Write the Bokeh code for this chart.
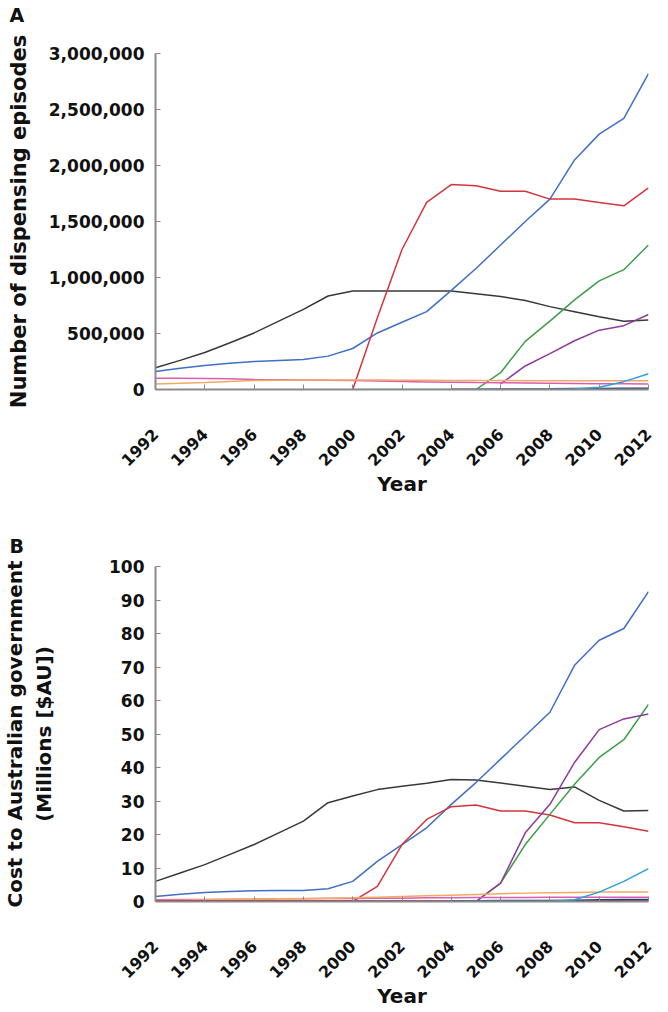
import math
from bokeh.plotting import figure
from bokeh.layouts import column
from bokeh.models import FixedTicker, NumeralTickFormatter, Range1d, Title
from bokeh.embed import file_html
from bokeh.resources import INLINE

nan = float("nan")
years = list(range(1992, 2013))
x_ticks = list(range(1992, 2013, 2))

# ---- Panel A: number of dispensing episodes ----
a_black = [195e3, 260e3, 330e3, 415e3, 505e3, 610e3, 715e3, 835e3, 880e3, 880e3, 880e3,
           880e3, 880e3, 855e3, 830e3, 795e3, 740e3, 695e3, 650e3, 610e3, 620e3]
a_blue = [160e3, 190e3, 215e3, 235e3, 250e3, 260e3, 268e3, 298e3, 366e3, 505e3, 600e3,
          695e3, 885e3, 1.08e6, 1.29e6, 1.50e6, 1.70e6, 2.05e6, 2.28e6, 2.42e6, 2.82e6]
a_red = [nan, nan, nan, nan, nan, nan, nan, nan, 0, 640e3, 1.25e6,
         1.67e6, 1.83e6, 1.82e6, 1.77e6, 1.77e6, 1.70e6, 1.70e6, 1.67e6, 1.64e6, 1.80e6]
a_green = [nan, nan, nan, nan, nan, nan, nan, nan, nan, nan, nan,
           nan, nan, 0, 150e3, 430e3, 610e3, 800e3, 970e3, 1.07e6, 1.29e6]
a_purple = [nan, nan, nan, nan, nan, nan, nan, nan, nan, nan, nan,
            nan, nan, nan, 50e3, 210e3, 320e3, 435e3, 530e3, 570e3, 670e3]
a_lightblue = [nan, nan, nan, nan, nan, nan, nan, nan, 0, 0, 0,
               0, 0, 0, 0, 0, 0, 5e3, 20e3, 70e3, 140e3]
a_pink = [100e3, 100e3, 98e3, 95e3, 90e3, 88e3, 85e3, 82e3, 80e3, 76e3, 72e3,
          68e3, 65e3, 62e3, 60e3, 58e3, 56e3, 54e3, 52e3, 51e3, 50e3]
a_orange = [50e3, 55e3, 62e3, 72e3, 80e3, 82e3, 84e3, 85e3, 85e3, 84e3, 82e3,
            82e3, 80e3, 80e3, 80e3, 79e3, 78e3, 78e3, 78e3, 78e3, 78e3]
a_navy = [nan, nan, nan, nan, nan, nan, nan, nan, nan, nan, nan,
          nan, 2e3, 3e3, 4e3, 5e3, 6e3, 8e3, 10e3, 12e3, 12e3]

# ---- Panel B: cost to Australian government (millions AUD) ----
b_black = [6, 8.5, 11, 14, 17, 20.5, 24, 29.5, 31.5, 33.4, 34.4,
           35.3, 36.4, 36.3, 35.4, 34.4, 33.4, 34.2, 30.2, 27, 27.2]
b_blue = [1.5, 2.2, 2.7, 3.0, 3.2, 3.3, 3.3, 3.8, 6, 12, 17,
          22, 29, 35.5, 42.5, 49.5, 56.5, 70.5, 78, 81.5, 92.5]
b_red = [nan, nan, nan, nan, nan, nan, nan, nan, 0, 4.5, 17,
         24.5, 28.3, 28.8, 27, 27, 25.8, 23.5, 23.5, 22.3, 21]
b_green = [nan, nan, nan, nan, nan, nan, nan, nan, nan, nan, nan,
           nan, nan, 0, 5.5, 17, 26, 35, 43, 48.3, 58.8]
b_purple = [nan, nan, nan, nan, nan, nan, nan, nan, nan, nan, nan,
            nan, nan, 0, 5.5, 20.5, 29, 41.5, 51.3, 54.5, 56]
b_lightblue = [nan, nan, nan, nan, nan, nan, nan, nan, 0, 0, 0,
               0, 0, 0, 0, 0, 0, 0.5, 2.8, 6, 9.8]
b_pink = [0.5, 0.6, 0.6, 0.7, 0.7, 0.8, 0.8, 0.9, 0.9, 1.0, 1.0,
          1.1, 1.1, 1.2, 1.2, 1.2, 1.3, 1.3, 1.3, 1.3, 1.3]
b_orange = [0.3, 0.4, 0.5, 0.6, 0.7, 0.8, 0.9, 1.0, 1.1, 1.3, 1.5,
            1.7, 1.9, 2.1, 2.3, 2.5, 2.6, 2.7, 2.8, 2.8, 2.8]
b_crimson = [0.2, 0.2, 0.2, 0.2, 0.2, 0.2, 0.2, 0.2, 0.2, 0.2, 0.2,
             0.2, 0.2, 0.2, 0.2, 0.2, 0.2, 0.2, 0.2, 0.2, 0.2]
b_navy = [nan, nan, nan, nan, nan, nan, nan, nan, nan, nan, nan,
          nan, 0.2, 0.2, 0.3, 0.3, 0.3, 0.4, 0.5, 0.6, 0.6]

a_y_ticks = [0, 500000, 1000000, 1500000, 2000000, 2500000, 3000000]
b_y_ticks = [0, 10, 20, 30, 40, 50, 60, 70, 80, 90, 100]

COLORS = {
    "black": "#383838", "blue": "#3f6fc6", "red": "#d4353d", "green": "#3c9e47",
    "purple": "#8e3a9e", "lightblue": "#2c9fdc", "pink": "#dc5cb0", "orange": "#f0aa62",
    "navy": "#23407a", "crimson": "#b0203c",
}

FONT = "DejaVu Sans"


def letter_title(text, standoff):
    return Title(text=text, align="left", offset=-146, vertical_align="top",
                 standoff=standoff, text_font=FONT, text_font_style="bold",
                 text_font_size="19px", text_color="#111111")


def make_panel(series, y_end, y_ticks, y_fmt, ylabel, ylabel_size, height, b_top, b_bottom,
               ylabel_standoff):
    p = figure(width=656, height=height, output_backend="svg", toolbar_location=None,
               x_range=Range1d(1992, 2012), y_range=Range1d(0, y_end),
               min_border_left=148, min_border_right=8,
               min_border_top=b_top, min_border_bottom=b_bottom)
    p.outline_line_color = None
    p.xgrid.visible = False
    p.ygrid.visible = False
    p.background_fill_color = None
    p.border_fill_color = "white"

    for name, vals in series:
        p.line(years, vals, line_color=COLORS[name], line_width=1.5)

    for ax in (p.xaxis[0], p.yaxis[0]):
        ax.axis_line_color = "#8a8a8a"
        ax.axis_line_width = 2
        ax.major_tick_line_color = "#8a8a8a"
        ax.major_tick_in = 5
        ax.major_tick_out = 0
        ax.minor_tick_line_color = None
        ax.major_label_text_font = FONT
        ax.major_label_text_font_style = "bold"
        ax.major_label_text_font_size = "17px"
        ax.major_label_text_color = "#111111"
        ax.axis_label_text_font = FONT
        ax.axis_label_text_font_style = "bold"
        ax.axis_label_text_color = "#111111"

    xa = p.xaxis[0]
    xa.ticker = FixedTicker(ticks=x_ticks)
    xa.major_label_orientation = math.pi / 4
    xa.major_label_text_font_size = "16px"
    xa.major_label_standoff = 42
    xa.axis_label = "Year"
    xa.axis_label_text_font_size = "20px"
    xa.axis_label_standoff = -2

    ya = p.yaxis[0]
    ya.ticker = FixedTicker(ticks=y_ticks)
    ya.formatter = NumeralTickFormatter(format=y_fmt)
    ya.major_label_standoff = 11
    ya.axis_label = ylabel
    ya.axis_label_text_font_size = ylabel_size
    ya.axis_label_standoff = ylabel_standoff
    return p


pa = make_panel([("black", a_black), ("blue", a_blue), ("red", a_red), ("green", a_green),
                 ("purple", a_purple), ("pink", a_pink), ("orange", a_orange),
                 ("navy", a_navy), ("lightblue", a_lightblue)],
                3000000, a_y_ticks, "0,0", "Number of dispensing episodes", "21px",
                507, 52, 118, 15)
# spacer (nearest the frame) then the panel letter above it
pa.add_layout(Title(text=" ", text_font_size="1px", standoff=20), "above")
pa.add_layout(letter_title("A", 6), "above")

pb = make_panel([("black", b_black), ("blue", b_blue), ("red", b_red), ("green", b_green),
                 ("purple", b_purple), ("pink", b_pink), ("orange", b_orange),
                 ("crimson", b_crimson), ("navy", b_navy), ("lightblue", b_lightblue)],
                100, b_y_ticks, "0", "Cost to Australian government\n(Millions [$AU])", "20px",
                504, 59, 110, 50)
pb.add_layout(letter_title("B", 15), "above")

layout = column(pa, pb, spacing=0)
open("out.html", "w").write(file_html(layout, INLINE))
